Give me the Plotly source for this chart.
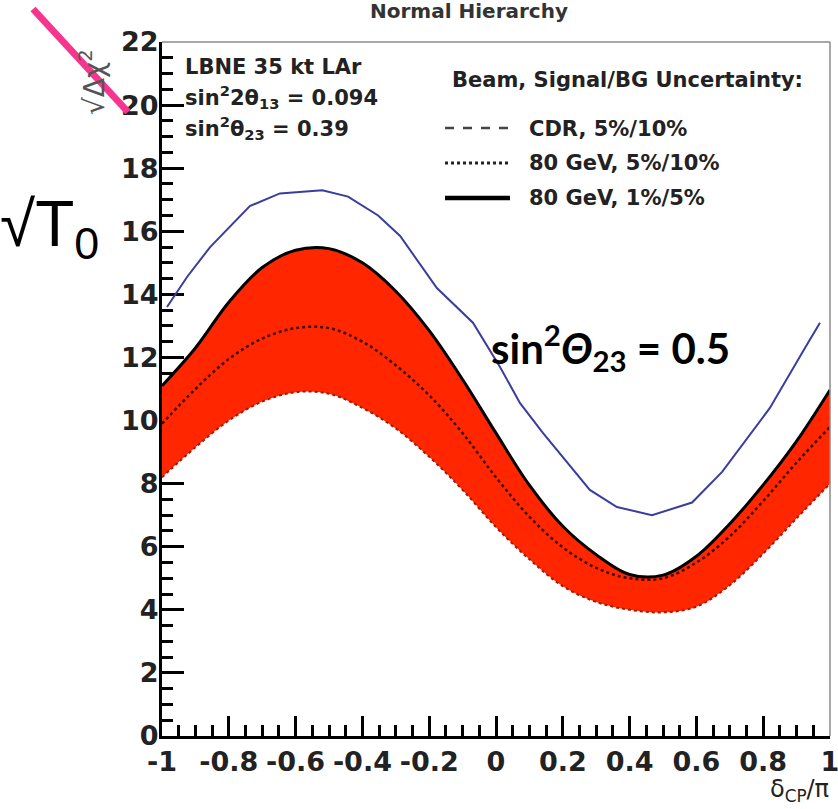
import plotly.graph_objects as go

# ---------------- data ----------------
delta_cp = [-1.0, -0.9, -0.8, -0.7, -0.6, -0.5, -0.4, -0.3, -0.2, -0.1, 0.0,
            0.1, 0.2, 0.3, 0.4, 0.5, 0.6, 0.7, 0.8, 0.9, 1.0]
upper_1_5 = [11.1, 12.3, 13.75, 14.85, 15.4, 15.45, 15.0, 14.1, 12.85, 11.3, 9.6,
             7.95, 6.65, 5.75, 5.12, 5.1, 5.7, 6.73, 7.96, 9.35, 10.97]
mid_5_10 = [9.9, 11.0, 11.95, 12.6, 12.93, 12.93, 12.5, 11.75, 10.8, 9.6, 8.2,
            6.95, 5.98, 5.33, 5.0, 5.0, 5.5, 6.33, 7.45, 8.67, 9.8]
lower_cdr = [8.2, 9.15, 10.0, 10.6, 10.9, 10.85, 10.4, 9.75, 8.85, 7.8, 6.62,
             5.6, 4.75, 4.25, 4.0, 3.92, 4.1, 4.78, 5.78, 6.9, 8.0]

blue_x = [-0.985, -0.925, -0.856, -0.737, -0.647, -0.52, -0.443, -0.353, -0.287,
          -0.177, -0.069, 0.012, 0.072, 0.141, 0.281, 0.362, 0.467, 0.587, 0.677,
          0.82, 0.925, 0.97]
blue_y = [13.6, 14.55, 15.5, 16.8, 17.2, 17.3, 17.1, 16.5, 15.85, 14.2, 13.1,
          11.7, 10.55, 9.6, 7.8, 7.26, 7.0, 7.4, 8.37, 10.4, 12.3, 13.1]

x_tickvals = [-1, -0.8, -0.6, -0.4, -0.2, 0, 0.2, 0.4, 0.6, 0.8, 1]
x_ticktext = ["-1", "-0.8", "-0.6", "-0.4", "-0.2", "0", "0.2", "0.4", "0.6", "0.8", "1"]
y_tickvals = [0, 2, 4, 6, 8, 10, 12, 14, 16, 18, 20, 22]
y_ticktext = ["0", "2", "4", "6", "8", "10", "12", "14", "16", "18", "20", "22"]

legend_title = "Beam, Signal/BG Uncertainty:"
legend_names = ["CDR, 5%/10%", "80 GeV, 5%/10%", "80 GeV, 1%/5%"]

ROOT_FONT = "DejaVu Sans"
TXT = "#222222"
RED = "rgb(255,38,0)"

fig = go.Figure()

fig.add_trace(go.Scatter(x=delta_cp, y=lower_cdr, mode="lines", name=legend_names[0],
                         line=dict(color="#a81800", width=2, dash="dot", shape="spline"),
                         showlegend=False))
fig.add_trace(go.Scatter(x=delta_cp, y=upper_1_5, mode="lines", name=legend_names[2],
                         fill="tonexty", fillcolor=RED,
                         line=dict(color="black", width=3, shape="spline"),
                         showlegend=False))
fig.add_trace(go.Scatter(x=delta_cp, y=mid_5_10, mode="lines", name=legend_names[1],
                         line=dict(color="#3a0a00", width=2.5, dash="dot", shape="spline"),
                         showlegend=False))
fig.add_trace(go.Scatter(x=blue_x, y=blue_y, mode="lines", name="sin²θ23 = 0.5",
                         line=dict(color="#3c3c9e", width=2),
                         showlegend=False))

W_PLOT, H_PLOT, L, T = 668, 694, 162, 42


def px(xp):
    return (xp - L) / W_PLOT


def py(yp):
    return (T + H_PLOT - yp) / H_PLOT


annotations = []


def txt(text, x, y, size, xanchor="left", yanchor="middle", family=ROOT_FONT,
        weight="bold", color=TXT, angle=0):
    annotations.append(dict(text=text, x=px(x), y=py(y), xref="paper", yref="paper",
                            xanchor=xanchor, yanchor=yanchor, showarrow=False,
                            textangle=angle,
                            font=dict(family=family, size=size, color=color,
                                      weight=weight)))


# info block
txt("LBNE 35 kt LAr", 183, 67, 21)
txt("sin<sup>2</sup>2θ<sub>13</sub> = 0.094", 183, 97, 21)
txt("sin<sup>2</sup>θ<sub>23</sub> = 0.39", 183, 128, 21)

# legend
txt(legend_title, 450, 80, 21)
leg_y = [129, 163, 198]
for name, yy in zip(legend_names, leg_y):
    txt(name, 527, yy, 21)

# axis titles / extra labels
txt("δ<sub>CP</sub>/π", 831, 790, 24, xanchor="right", weight="normal")
txt("√Δχ<sup>2</sup>", 92, 82, 28, xanchor="center", weight="normal",
    color="#555555", angle=-90)
txt("√T<sub>0</sub>", -2, 228, 64, family="Liberation Sans", weight="normal",
    color="black")
txt("sin<sup>2</sup><i>Θ</i><sub>23</sub> = 0.5", 489, 347, 42, family="Lato",
    weight="bold", color="black")

shapes = [
    # frame top and right
    dict(type="line", xref="paper", yref="paper", x0=0, x1=1, y0=1, y1=1,
         line=dict(color="#8a8a8a", width=1.5)),
    dict(type="line", xref="paper", yref="paper", x0=1, x1=1, y0=0, y1=1,
         line=dict(color="#8a8a8a", width=1.5)),
    # legend samples
    dict(type="line", xref="paper", yref="paper", x0=px(445), x1=px(510),
         y0=py(128), y1=py(128), line=dict(color="#444444", width=2.5, dash="dash")),
    dict(type="line", xref="paper", yref="paper", x0=px(445), x1=px(510),
         y0=py(163), y1=py(163), line=dict(color="#222222", width=3, dash="dot")),
    dict(type="line", xref="paper", yref="paper", x0=px(445), x1=px(510),
         y0=py(198), y1=py(198), line=dict(color="black", width=4.5)),
    # pink stroke
    dict(type="line", xref="paper", yref="paper", x0=px(33), x1=px(128),
         y0=py(9), y1=py(112), line=dict(color="#f7358e", width=7)),
]

fig.update_layout(
    width=838, height=809,
    margin=dict(l=L, r=838 - L - W_PLOT, t=T, b=809 - T - H_PLOT, autoexpand=False),
    paper_bgcolor="white", plot_bgcolor="white",
    title=dict(text="Normal Hierarchy", x=469 / 838, xanchor="center",
               y=1 - 11 / 809, yanchor="middle",
               font=dict(family=ROOT_FONT, size=20, color="#333333", weight="bold")),
    annotations=annotations,
    shapes=shapes,
    showlegend=False,
)

fig.update_xaxes(range=[-1, 1], tickmode="array", tickvals=x_tickvals,
                 ticktext=x_ticktext, ticks="inside", ticklen=20, tickwidth=2.5,
                 tickcolor="black", showline=True, linewidth=3, linecolor="black",
                 showgrid=False, zeroline=False, layer="below traces",
                 ticklabeloverflow="allow", automargin=False,
                 tickfont=dict(family=ROOT_FONT, size=27, color=TXT, weight="bold"),
                 minor=dict(tickmode="linear", tick0=-1, dtick=0.05, ticks="inside",
                            ticklen=11, tickwidth=2.5, tickcolor="black",
                            showgrid=False))
fig.update_yaxes(range=[0, 22], tickmode="array", tickvals=y_tickvals,
                 ticktext=y_ticktext, ticks="inside", ticklen=22, tickwidth=2.5,
                 tickcolor="black", showline=True, linewidth=3, linecolor="black",
                 showgrid=False, zeroline=False, layer="below traces",
                 ticklabelstandoff=-5, automargin=False,
                 tickfont=dict(family=ROOT_FONT, size=27, color=TXT, weight="bold"),
                 minor=dict(tickmode="linear", tick0=0, dtick=0.5, ticks="inside",
                            ticklen=11, tickwidth=2.5, tickcolor="black",
                            showgrid=False))

fig.write_html("out.html")
